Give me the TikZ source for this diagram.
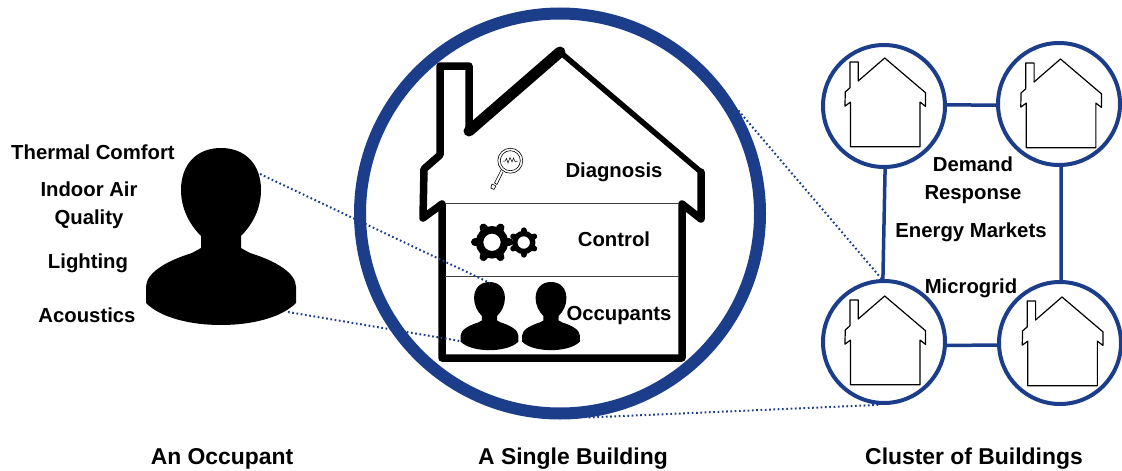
\documentclass[tikz,border=0pt]{standalone}
\usepackage{fontspec}
\setmainfont{Liberation Sans}
\usepackage{xcolor}
\usepackage{tikz}
\usetikzlibrary{calc}

\definecolor{ringblue}{RGB}{28,61,138}

\tikzset{
    tag/.style={font=\bfseries\fontsize{20.3}{24}\selectfont, align=center, inner sep=0pt},
    caption/.style={font=\bfseries\fontsize{22.9}{27}\selectfont, inner sep=0pt},
    ring/.style={draw=ringblue, circle, fill=white, line width=#1},
    link/.style={color=ringblue, line width=3.5pt},
    dotlink/.style={color=ringblue, line width=2pt, dash pattern=on 1.7pt off 2.6pt},
    pics/house/.style n args={3}{code={
        \draw[line width=#1, line cap=round, line join=round] (-91, 79) -- (-91, 14) -- (-120, 14) -- (-120, 103) -- (-136, 117) -- (-137, 166) -- (-118, 152) -- (-118, 306) -- (122, 306) -- (122, 152) -- (141, 167) -- (141, 120);
        \draw[line width=#2, line cap=round] (-91, 79) -- (0, 0);
        \draw[line width=#3, line cap=round] (0, 0) -- (141, 120);
    }},
    pics/occupant/.style={code={
        \fill[black] (-20, 88) .. controls (-32, 76) and (-40, 60) .. (-40, 42)
            .. controls (-40, 16) and (-24, 0) .. (0, 0)
            .. controls (24, 0) and (40, 16) .. (40, 42)
            .. controls (40, 60) and (32, 76) .. (20, 88)
            -- (20, 100) -- (29, 105)
            .. controls (55, 113) and (75, 125) .. (75, 139)
            -- (75, 155) .. controls (60, 170) and (30, 177) .. (0, 177)
            .. controls (-30, 177) and (-60, 170) .. (-75, 155)
            -- (-75, 139) .. controls (-75, 125) and (-55, 113) .. (-29, 105)
            -- (-20, 100) -- cycle;
    }}
}

\begin{document}
\begin{tikzpicture}[x=1pt, y=-1pt, line width=1pt]
    \useasboundingbox (0, 0) rectangle (1122, 471);

    % draw big circle and small circles
    \node[ring=12pt, minimum size=400pt] (bldg) at (560, 213.5) {};
    \node[ring=4pt, minimum size=122pt] (topleft) at (884, 106) {};
    \node[ring=4pt, minimum size=122pt] (topright) at (1059, 104) {};
    \node[ring=4pt, minimum size=122pt] (botleft) at (884, 342) {};
    \node[ring=4pt, minimum size=122pt] (botright) at (1060, 343) {};

    % draw links of the cluster
    \draw[link] (topleft.1) -- (topright.181);
    \draw[link] (topleft.-89) -- (botleft.91);
    \draw[link] (topright.-88) -- (botright.89);
    \draw[link] (botleft.-3) -- (botright.182);

    % draw houses
    \pic at (560, 52) {house={7.5pt}{11pt}{5.5pt}};
    \pic[scale=0.29] at (884.7, 58) {house={1.2pt}{1.2pt}{1.2pt}};
    \pic[scale=0.29] at (1060.5, 59) {house={1.2pt}{1.2pt}{1.2pt}};
    \pic[scale=0.29] at (884.7, 296) {house={1.2pt}{1.2pt}{1.2pt}};
    \pic[scale=0.29] at (1062, 297) {house={1.2pt}{1.2pt}{1.2pt}};

    % draw floors
    \draw[color=black!75] (445, 203.5) -- (679, 203.5);
    \draw[color=black!75] (445, 276) -- (679, 276);

    % draw occupants
    \pic at (221, 148) {occupant};
    \pic[scale=0.385] at (489.5, 282) {occupant};
    \pic[scale=0.385] at (551, 282) {occupant};

    % draw gears
    \foreach \gx/\gy/\gr/\grot in {492/242.3/1/0, 523.7/242.5/0.72/30} {
        \draw[line width=7.5pt * \gr] (\gx, \gy) circle (12.5 * \gr);
        \foreach \k in {0, ..., 5} {
            \draw[line width=8pt * \gr, line cap=round] ($(\gx, \gy) + (\grot + \k * 60 : 14 * \gr)$) -- ($(\gx, \gy) + (\grot + \k * 60 : 17 * \gr)$);
        }
    }

    % draw magnifier
    \draw[line width=0.6pt] (510.3, 160.7) circle (12.5);
    \draw[line width=0.6pt] (510.3, 160.7) circle (10);
    \draw[line width=0.5pt] (503, 161) -- (505, 161) -- (506.5, 158.5) -- (508, 163) -- (510, 157.5) -- (512, 162) -- (513.5, 158) -- (515, 161.5) -- (518, 161);
    \draw[line width=0.6pt] (501, 170) -- (494.5, 183) -- (497, 184.5) -- (503, 172);
    \draw[line width=0.6pt] (492, 184) -- (490.8, 188) -- (494, 189.5) -- (496, 186) -- cycle;

    % draw labels
    \node[tag] (comfort) at (93, 152) {Thermal Comfort};
    \node[tag] (air) at (89, 205.5) {Indoor Air\\[4pt]Quality};
    \node[tag] (lighting) at (88, 263) {Lighting};
    \node[tag] (acoustics) at (87, 315) {Acoustics};
    \node[tag] (diagnosis) at (614, 172) {Diagnosis};
    \node[tag] (control) at (614, 239) {Control};
    \node[tag] (occupants) at (619, 316) {Occupants};
    \node[tag] (demand) at (973, 180.5) {Demand\\[4pt]Response};
    \node[tag] (markets) at (971, 232) {Energy Markets};
    \node[tag] (microgrid) at (971, 288.5) {Microgrid};
    \node[caption] (single) at (222, 458.5) {An Occupant};
    \node[caption] (building) at (573, 458.5) {A Single Building};
    \node[caption] (cluster) at (974, 458.5) {Cluster of Buildings};

    % draw dotted zoom lines
    \coordinate (head) at (260, 174);
    \coordinate (inhead) at (490, 283);
    \coordinate (body) at (288, 312);
    \coordinate (inbody) at (460, 341);
    \draw[dotlink] (head) -- (inhead);
    \draw[dotlink] (body) -- (inbody);
    \draw[dotlink] (bldg.30) -- (botleft.92);
    \draw[dotlink] (bldg.-82) -- (botleft.-94);
\end{tikzpicture}
\end{document}
